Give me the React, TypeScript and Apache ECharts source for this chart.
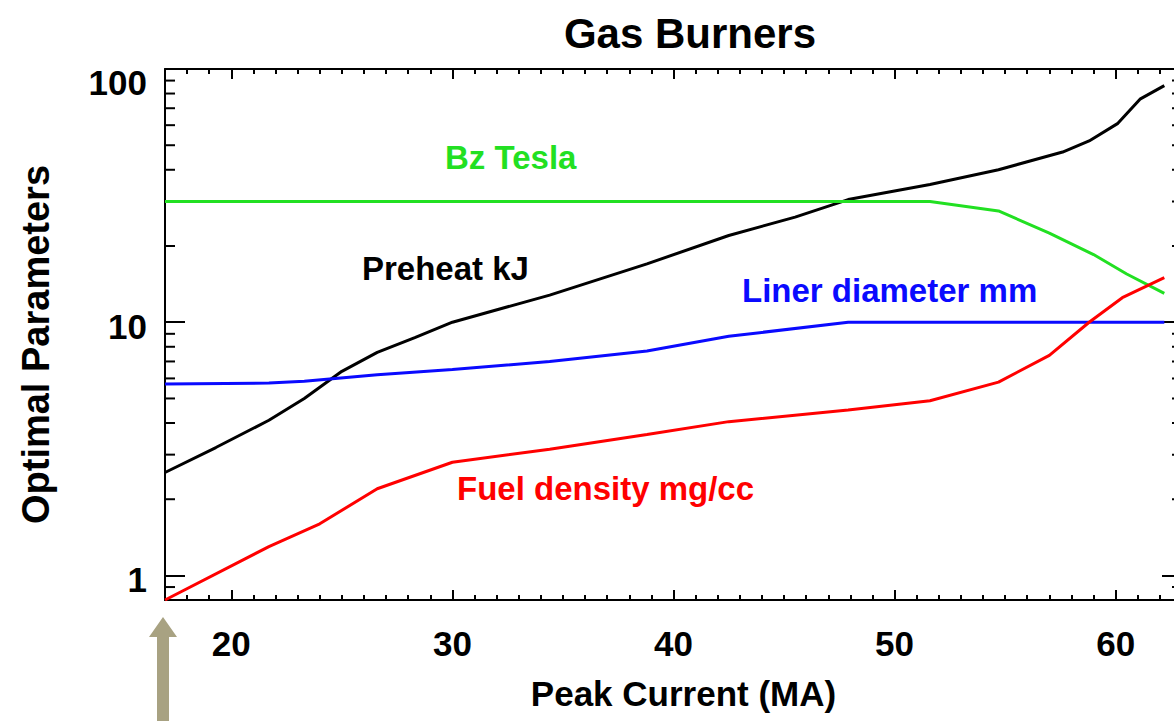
import React, { useEffect, useRef } from "react";
import * as echarts from "echarts";

// ---- data ----
const preheat: [number, number][] = [
  [17, 2.55], [19.3, 3.2], [21.7, 4.1], [23.3, 5.0], [25, 6.4], [26.6, 7.6], [28.3, 8.7], [30, 10],
  [34.4, 12.8], [38.8, 17], [42.5, 22], [45.5, 26], [47.9, 30.5], [51.6, 35], [54.7, 40],
  [57.6, 47], [58.8, 52], [60.1, 61], [61.1, 76], [62.2, 86],
];
const bzTesla: [number, number][] = [
  [17, 30], [51.6, 30], [54.7, 27.5], [57, 22.5], [59, 18.5], [60.5, 15.5], [62.2, 13],
];
const linerDiameter: [number, number][] = [
  [17, 5.7], [21.7, 5.75], [23.3, 5.85], [26.6, 6.2], [30, 6.5], [34.4, 7.0], [38.8, 7.7],
  [42.5, 8.8], [47.9, 10], [62.2, 10],
];
const fuelDensity: [number, number][] = [
  [17, 0.8], [21.7, 1.3], [24, 1.6], [26.6, 2.2], [30, 2.8], [34.4, 3.15], [38.8, 3.6], [42.5, 4.05],
  [47.9, 4.5], [51.6, 4.9], [54.7, 5.8], [57, 7.4], [58.8, 10], [60.3, 12.5], [62.2, 15],
];
const yMinorTickValues = [0.9, 2, 3, 4, 5, 6, 7, 8, 9, 20, 30, 40, 50, 60, 70, 80, 90];
const X_MIN = 17;
const X_MAX = 63;
const Y_MIN = 0.8;
const Y_MAX = 100;

const FONT = '"Liberation Sans", Arial, Helvetica, sans-serif';

export default function App() {
  const ref = useRef<HTMLDivElement>(null);
  useEffect(() => {
    if (!ref.current) return;
    const chart = echarts.init(ref.current, undefined, { renderer: "svg" });

    const xBase = (position: "bottom" | "top", major: boolean, labels: boolean, extra: any = {}) => ({
      type: "value",
      position,
      min: X_MIN,
      max: X_MAX,
      minInterval: major ? 10 : 1,
      maxInterval: major ? 10 : 1,
      splitLine: { show: false },
      axisLine: { show: !major, lineStyle: { color: "#000", width: 2 } },
      axisTick: { show: true, inside: true, length: major ? 10 : 5, lineStyle: { color: "#000", width: 2 } },
      axisLabel: labels
        ? {
            show: true,
            margin: 26,
            fontSize: 35,
            fontWeight: "bold",
            fontFamily: FONT,
            color: "#000",
            formatter: (v: number) =>
              Math.abs(v / 10 - Math.round(v / 10)) < 1e-6 ? String(Math.round(v)) : "",
          }
        : { show: false },
      ...extra,
    });

    const yLabelFormatter = (v: number) => {
      const l = Math.log10(v);
      const r = Math.round(l);
      if (Math.abs(l - r) > 1e-6) return "";
      const s = String(Math.round(Math.pow(10, r)));
      return r === 2 ? `{t|${s}}` : `{n|${s}}`;
    };

    const richBase = { fontSize: 35, fontWeight: "bold", fontFamily: FONT, color: "#000" };

    const option: any = {
      animation: false,
      backgroundColor: "#fff",
      grid: { left: 165, top: 69, width: 1017, height: 531, containLabel: false, outerBoundsMode: "none" },
      xAxis: [
        xBase("bottom", false, true, {
          name: "Peak Current (MA)",
          nameLocation: "middle",
          nameGap: 76,
          nameTextStyle: { fontSize: 35, fontWeight: "bold", fontFamily: FONT, color: "#000", padding: [0, 0, 0, 20] },
        }),
        xBase("bottom", true, false),
        xBase("top", false, false),
        xBase("top", true, false),
      ],
      yAxis: [
        {
          type: "log",
          logBase: 10,
          position: "left",
          min: Y_MIN,
          max: Y_MAX,
          splitLine: { show: false },
          axisLine: { show: true, lineStyle: { color: "#000", width: 2 } },
          axisTick: { show: true, inside: true, length: 20, lineStyle: { color: "#000", width: 2 } },
          axisLabel: {
            show: true,
            margin: 18,
            formatter: yLabelFormatter,
            rich: {
              t: { ...richBase, padding: [26, 0, 0, 0] },
              n: { ...richBase, padding: [8, 0, 0, 0] },
            },
          },
          name: "Optimal Parameters",
          nameLocation: "middle",
          nameGap: 110,
          nameRotate: 90,
          nameTextStyle: { fontSize: 38, fontWeight: "bold", fontFamily: FONT, color: "#000", padding: [0, 20, 0, 0] },
        },
        {
          type: "log",
          logBase: 10,
          position: "right",
          min: Y_MIN,
          max: Y_MAX,
          splitLine: { show: false },
          axisLine: { show: false },
          axisTick: { show: true, inside: true, length: 20, lineStyle: { color: "#000", width: 2 } },
          axisLabel: { show: false },
        },
      ],
      series: [
        {
          type: "custom",
          xAxisIndex: 0,
          yAxisIndex: 0,
          silent: true,
          clip: false,
          data: yMinorTickValues.map((v) => [X_MIN, v]),
          renderItem: (params: any, api: any) => {
            const v = api.value(1);
            const l = api.coord([X_MIN, v]);
            const r = api.coord([X_MAX, v]);
            const st = { stroke: "#000", lineWidth: 2 };
            return {
              type: "group",
              children: [
                { type: "line", shape: { x1: l[0], y1: l[1], x2: l[0] + 10, y2: l[1] }, style: st },
                { type: "line", shape: { x1: r[0] - 10, y1: r[1], x2: r[0], y2: r[1] }, style: st },
              ],
            };
          },
        },
        {
          name: "Preheat kJ",
          type: "line",
          data: preheat,
          showSymbol: false,
          symbol: "none",
          lineStyle: { color: "#000000", width: 3 },
        },
        {
          name: "Bz Tesla",
          type: "line",
          data: bzTesla,
          showSymbol: false,
          symbol: "none",
          lineStyle: { color: "#22e022", width: 3 },
        },
        {
          name: "Liner diameter mm",
          type: "line",
          data: linerDiameter,
          showSymbol: false,
          symbol: "none",
          lineStyle: { color: "#0a0aff", width: 3 },
        },
        {
          name: "Fuel density mg/cc",
          type: "line",
          data: fuelDensity,
          showSymbol: false,
          symbol: "none",
          lineStyle: { color: "#ff0000", width: 3 },
        },
      ],
      graphic: [
        {
          type: "text",
          x: 690,
          y: 33,
          style: {
            text: "Gas Burners",
            fill: "#000",
            font: `bold 42px ${FONT}`,
            textAlign: "center",
            textVerticalAlign: "middle",
          },
        },
        {
          type: "text",
          x: 445,
          y: 157,
          style: { text: "Bz Tesla", fill: "#22e022", font: `bold 33px ${FONT}`, textVerticalAlign: "middle" },
        },
        {
          type: "text",
          x: 362,
          y: 268,
          style: { text: "Preheat kJ", fill: "#000", font: `bold 33px ${FONT}`, textVerticalAlign: "middle" },
        },
        {
          type: "text",
          x: 742,
          y: 290,
          style: { text: "Liner diameter mm", fill: "#0a0aff", font: `bold 33px ${FONT}`, textVerticalAlign: "middle" },
        },
        {
          type: "text",
          x: 457,
          y: 488,
          style: { text: "Fuel density mg/cc", fill: "#ff0000", font: `bold 33px ${FONT}`, textVerticalAlign: "middle" },
        },
        {
          type: "polygon",
          shape: {
            points: [
              [163, 617],
              [177, 637],
              [169, 637],
              [169, 721],
              [157, 721],
              [157, 637],
              [149, 637],
            ],
          },
          style: { fill: "#a8a282" },
        },
      ],
    };
    chart.setOption(option);
    return () => chart.dispose();
  }, []);
  return (
    <div
      ref={ref}
      style={{ position: "fixed", left: 0, top: 0, width: 1174, height: 721, background: "#fff" }}
    />
  );
}
